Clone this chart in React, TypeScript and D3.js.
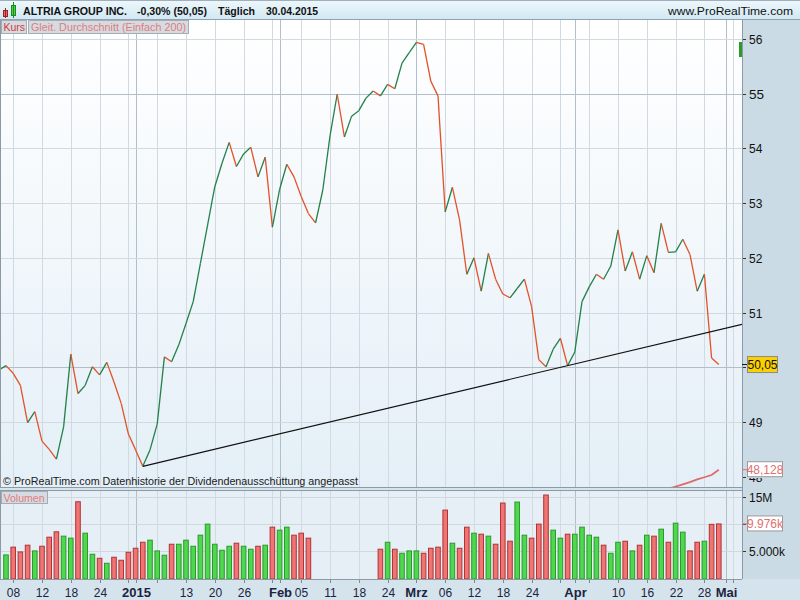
import * as d3 from 'd3';

// trading days shown on the chart
const decDays = [4, 5, 8, 9, 10, 11, 12, 15, 16, 17, 18, 19, 22, 23, 24, 26, 29, 30, 31];
const janDays = [2, 5, 6, 7, 8, 9, 12, 13, 14, 15, 16, 20, 21, 22, 23, 26, 27, 28, 29, 30];
const febDays = [2, 3, 4, 5, 6, 9, 10, 11, 12, 13, 17, 18, 19, 20, 23, 24, 25, 26, 27];
const marDays = [2, 3, 4, 5, 6, 9, 10, 11, 12, 13, 16, 17, 18, 19, 20, 23, 24, 25, 26, 27, 30, 31];
const aprDays = [1, 2, 6, 7, 8, 9, 10, 13, 14, 15, 16, 17, 20, 21, 22, 23, 24, 27, 28, 29, 30];
const mayDays = [1, 4];

const closes = [
  49.95, 50.03, 49.89, 49.67, 48.99, 49.19, 48.65, 48.5, 48.32, 48.91, 50.24, 49.52, 49.67, 50.01, 49.86, 50.09, 49.73, 49.34, 48.78,
  48.49, 48.19, 48.49, 48.96, 50.19, 50.1, 50.41, 50.8, 51.2, 51.9, 52.6, 53.3, 53.73, 54.11, 53.67, 53.9, 54.02, 53.48, 53.84, 52.56,
  53.25, 53.71, 53.48, 53.12, 52.81, 52.64, 53.24, 54.23, 54.99, 54.21, 54.59, 54.69, 54.92, 55.05, 54.96, 55.17, 55.09, 55.56, 55.75,
  55.94, 55.9, 55.23, 54.96, 52.84, 53.29, 52.69, 51.7, 52.0, 51.39, 52.08, 51.61, 51.34, 51.27, 51.44, 51.61, 51.11, 50.14, 50.01, 50.33, 50.53, 50.03,
  50.28, 51.2, 51.47, 51.7, 51.61, 51.85, 52.51, 51.76, 52.11, 51.61, 52.04, 51.73, 52.63, 52.1, 52.11, 52.34, 52.06, 51.39, 51.7, 50.17, 50.05,
];

// volume in millions (null = no data)
const volumes: (number | null)[] = [
  null, 4.26, 5.69, 4.81, 6.05, 5.0, 5.86, 7.53, 8.52, 7.72, 7.35, 14.07, 8.27, 4.38, 3.64, 2.72, 3.83, 3.27, 4.75,
  5.49, 6.6, 6.98, 5.0, 4.2, 6.23, 6.23, 6.98, 5.86, 7.9, 9.94, 6.23, 5.12, 5.86, 6.42, 5.86, 5.31, 5.86, 6.05, 9.38,
  8.83, 9.38, 7.9, 8.27, 7.35, null, null, null, null, null, null, null, null, null, 5.31, 6.6, 5.31, 4.57, 5.0,
  5.0, 4.57, 5.49, 5.69, 12.53, 6.42, 5.49, 9.38, 8.27, 8.08, 7.72, 6.23, 13.83, 6.79, 14.01, 7.9, 7.35, 9.94, 15.31, 8.83, 7.35, 8.08,
  8.08, 9.38, 7.9, 7.53, 6.05, 4.57, 6.6, 6.79, 5.0, 6.05, 7.9, 7.72, 9.01, 6.6, 10.12, 8.46, 5.0, 6.6, 6.79, 9.9, 9.976,
];
const volumeDir = [
  'u', 'u', 'd', 'd', 'd', 'u', 'd', 'd', 'd', 'u', 'u', 'd', 'u', 'u', 'd', 'u', 'd', 'd', 'd',
  'd', 'd', 'u', 'u', 'u', 'd', 'u', 'u', 'u', 'u', 'u', 'u', 'u', 'u', 'd', 'u', 'u', 'd', 'u', 'd',
  'u', 'u', 'd', 'd', 'd', 'u', 'u', 'u', 'u', 'u', 'u', 'u', 'u', 'u', 'd', 'u', 'd', 'u', 'u',
  'u', 'd', 'd', 'd', 'd', 'u', 'd', 'd', 'u', 'd', 'u', 'd', 'd', 'd', 'u', 'u', 'd', 'd', 'd', 'u', 'u', 'd',
  'u', 'u', 'u', 'u', 'd', 'u', 'u', 'd', 'u', 'd', 'u', 'd', 'u', 'd', 'u', 'u', 'd', 'd', 'u', 'd', 'd',
];

// 200-day simple moving average, last values (Apr 14 .. Apr 30)
const smaDates = ['2015-04-14', '2015-04-15', '2015-04-16', '2015-04-17', '2015-04-20', '2015-04-21', '2015-04-22', '2015-04-23', '2015-04-24', '2015-04-27', '2015-04-28', '2015-04-29', '2015-04-30'];
const smaValues = [47.62, 47.65, 47.68, 47.71, 47.75, 47.78, 47.82, 47.86, 47.9, 47.95, 47.99, 48.03, 48.128];

const priceTicks = [48, 49, 50, 51, 52, 53, 54, 55, 56];
const volumeTicks = [5, 10, 15];

const gridDates = [
  ['2014-12-08', '08'], ['2014-12-12', '12'], ['2014-12-18', '18'], ['2014-12-24', '24'], ['2014-12-31', ''],
  ['2015-01-02', '2015'], ['2015-01-07', ''], ['2015-01-13', '13'], ['2015-01-20', '20'], ['2015-01-26', '26'], ['2015-01-30', ''],
  ['2015-02-02', 'Feb'], ['2015-02-05', '05'], ['2015-02-11', '11'], ['2015-02-18', '18'], ['2015-02-24', '24'],
  ['2015-03-02', 'Mrz'], ['2015-03-06', '06'], ['2015-03-12', '12'], ['2015-03-18', '18'], ['2015-03-24', '24'], ['2015-03-30', ''],
  ['2015-04-01', 'Apr'], ['2015-04-06', ''], ['2015-04-10', '10'], ['2015-04-16', '16'], ['2015-04-22', '22'], ['2015-04-28', '28'],
  ['2015-05-01', 'Mai'], ['2015-05-04', ''],
];
const monthLabels = ['2015', 'Feb', 'Mrz', 'Apr', 'Mai'];

const pad = (n: number) => (n < 10 ? '0' + n : '' + n);
const axisDays = [
  ...decDays.map((d) => `2014-12-${pad(d)}`),
  ...janDays.map((d) => `2015-01-${pad(d)}`),
  ...febDays.map((d) => `2015-02-${pad(d)}`),
  ...marDays.map((d) => `2015-03-${pad(d)}`),
  ...aprDays.map((d) => `2015-04-${pad(d)}`),
  ...mayDays.map((d) => `2015-05-${pad(d)}`),
];

const FONT = '"Liberation Sans", Arial, sans-serif';
const W = 800;
const H = 600;
const plotRight = 742;
const priceTop = 20;
const priceBottom = 487;
const volTop = 491;
const volBottom = 579;

const UP = '#24804a';
const DOWN = '#e2522a';

export default function App() {
  const x = d3.scaleLinear().domain([0, 101]).range([-1.2, 726]);
  const idx = (d: string) => axisDays.indexOf(d);
  const y = d3.scaleLinear().domain([48, 56]).range([476.7, 39]);
  const vy = d3.scaleLinear().domain([0, 15]).range([578, 496.7]);
  const barW = 5.6;

  const segments = closes.slice(1).map((c, i) => ({
    x1: x(i), y1: y(closes[i]), x2: x(i + 1), y2: y(c), up: c >= closes[i],
  }));

  // support line through the January and March lows, extended to the right edge
  const a = idx('2015-01-05');
  const b = idx('2015-03-31');
  const slope = (closes[b] - closes[a]) / (b - a);
  const endIdx = x.invert(plotRight);
  const trend = { x1: x(a), y1: y(closes[a]), x2: plotRight, y2: y(closes[a] + slope * (endIdx - a)) };

  const smaLine = d3.line<number>()
    .x((_, i) => x(idx(smaDates[i])))
    .y((v) => y(v))(smaValues) || '';

  const last = closes[closes.length - 1];
  const lastSma = smaValues[smaValues.length - 1];
  const lastVol = volumes[volumes.length - 1] as number;

  return (
    <div style={{ position: 'fixed', left: 0, top: 0 }}>
      <svg width={W} height={H} style={{ display: 'block', fontFamily: FONT }}>
        <defs>
          <linearGradient id="hdr" x1="0" y1="0" x2="0" y2="1">
            <stop offset="0" stopColor="#eef8fc" />
            <stop offset="1" stopColor="#d2e8f3" />
          </linearGradient>
          <linearGradient id="pbg" x1="0" y1="0" x2="0" y2="1">
            <stop offset="0" stopColor="#ffffff" />
            <stop offset="1" stopColor="#e4eff7" />
          </linearGradient>
          <clipPath id="pclip"><rect x={1} y={priceTop} width={plotRight - 1} height={priceBottom - priceTop} /></clipPath>
          <clipPath id="vclip"><rect x={1} y={volTop} width={plotRight - 1} height={volBottom - volTop} /></clipPath>
          <clipPath id="lowclip"><rect x={plotRight} y={478} width={W - plotRight} height={10} /></clipPath>
        </defs>

        {/* backgrounds */}
        <rect x={0} y={0} width={W} height={H} fill="#d6e4ec" />
        <rect x={0} y={priceTop} width={plotRight} height={priceBottom - priceTop} fill="url(#pbg)" />
        <rect x={0} y={volTop} width={plotRight} height={volBottom - volTop} fill="#e6eff6" />
        <rect x={plotRight} y={priceTop} width={W - plotRight} height={volBottom - priceTop} fill="#cbdbe5" />
        <rect x={0} y={volBottom} width={W} height={H - volBottom} fill="#d5e3ec" />

        {/* header */}
        <rect x={0} y={0} width={W} height={19} fill="url(#hdr)" />
        <line x1={0} x2={W} y1={0.5} y2={0.5} stroke="#9fb0bc" />
        <line x1={0} x2={W} y1={19.5} y2={19.5} stroke="#8fa2b0" />
        <rect x={3.5} y={10.5} width={4} height={6} fill="#e46a6a" stroke="#a02020" />
        <line x1={5.5} x2={5.5} y1={8} y2={18} stroke="#a02020" />
        <rect x={11.5} y={5.5} width={4} height={10} fill="#4cd44c" stroke="#1a8a1a" />
        <line x1={13.5} x2={13.5} y1={2} y2={18} stroke="#1a8a1a" />
        <text x={23} y={14.5} fontSize={11.5} fontWeight="bold" fill="#111" textLength={104} lengthAdjust="spacingAndGlyphs">ALTRIA GROUP INC.</text>
        <text x={137} y={14.5} fontSize={11.5} fontWeight="bold" fill="#111" textLength={70} lengthAdjust="spacingAndGlyphs">-0,30% (50,05)</text>
        <text x={218} y={14.5} fontSize={11.5} fontWeight="bold" fill="#111" textLength={37} lengthAdjust="spacingAndGlyphs">Täglich</text>
        <text x={266} y={14.5} fontSize={11.5} fontWeight="bold" fill="#111" textLength={52} lengthAdjust="spacingAndGlyphs">30.04.2015</text>
        <text x={668} y={14.5} fontSize={11.5} fill="#111" textLength={125} lengthAdjust="spacingAndGlyphs">www.ProRealTime.com</text>

        {/* vertical grid */}
        {gridDates.map(([d, lab]) => {
          const gx = Math.round(x(idx(d))) + 0.5;
          const month = monthLabels.includes(lab);
          const col = month ? '#b2bec8' : '#d2dae1';
          return (
            <g key={'g' + d}>
              <line x1={gx} x2={gx} y1={priceTop} y2={priceBottom} stroke={col} />
              <line x1={gx} x2={gx} y1={volTop} y2={volBottom} stroke={col} />
              <line x1={gx} x2={gx} y1={volBottom} y2={volBottom + 4} stroke="#7a8a96" />
              {lab && (
                <text x={gx} y={597} textAnchor="middle" fontSize={month ? 13 : 12}
                  fontWeight={month ? 'bold' : 'normal'} fill="#1c2340">{lab}</text>
              )}
            </g>
          );
        })}

        {/* horizontal price grid + axis */}
        {priceTicks.map((t) => {
          const gy = Math.round(y(t)) + 0.5;
          const hidden = Math.abs(y(t) - y(closes[closes.length - 1])) < 10;
          return (
            <g key={'p' + t}>
              {t > 48 && <line x1={0} x2={plotRight} y1={gy} y2={gy} stroke={t % 5 === 0 ? '#b2bec8' : '#d2dae1'} />}
              <line x1={plotRight} x2={plotRight + 4} y1={gy} y2={gy} stroke="#333" />
              {!hidden && (
                <text x={749} y={gy + 4.5} fontSize={t % 5 === 0 ? 13.5 : 12} fill="#111"
                  clipPath={t === 48 ? 'url(#lowclip)' : undefined}>{t}</text>
              )}
            </g>
          );
        })}

        {/* volume grid + axis */}
        {volumeTicks.map((t) => {
          const gy = Math.round(vy(t)) + 0.5;
          return (
            <g key={'v' + t}>
              <line x1={0} x2={plotRight} y1={gy} y2={gy} stroke="#d0d8df" />
              <line x1={plotRight} x2={plotRight + 4} y1={gy} y2={gy} stroke="#333" />
              {t === 15 && <text x={749} y={gy + 4.5} fontSize={12} fill="#111">15M</text>}
              {t === 5 && <text x={749} y={gy + 4.5} fontSize={12} fill="#111">5.000k</text>}
            </g>
          );
        })}

        {/* volume bars */}
        <g clipPath="url(#vclip)">
          {volumes.map((v, i) => v == null ? null : (
            <rect key={'b' + i} x={x(i) - barW / 2 + 0.5} y={vy(v)} width={barW - 1} height={vy(0) - vy(v) + 1}
              fill={volumeDir[i] === 'u' ? '#4fd84f' : '#f07474'}
              stroke={volumeDir[i] === 'u' ? '#2a9a2a' : '#b03434'} strokeWidth={1} />
          ))}
        </g>

        {/* price line */}
        <g clipPath="url(#pclip)">
          <path d={smaLine} fill="none" stroke="#e06a6a" strokeWidth={1.8} />
          {segments.map((s, i) => (
            <line key={'s' + i} x1={s.x1} y1={s.y1} x2={s.x2} y2={s.y2} stroke={s.up ? UP : DOWN} strokeWidth={1.3} />
          ))}
          <line x1={trend.x1} y1={trend.y1} x2={trend.x2} y2={trend.y2} stroke="#111" strokeWidth={1.2} />
        </g>

        {/* panel borders */}
        <line x1={0.5} x2={0.5} y1={priceTop} y2={priceBottom} stroke="#8c9aa6" />
        <line x1={0.5} x2={0.5} y1={volTop} y2={volBottom} stroke="#8c9aa6" />
        <line x1={0} x2={plotRight} y1={priceBottom + 0.5} y2={priceBottom + 0.5} stroke="#8c9aa6" />
        <line x1={0} x2={plotRight} y1={volTop - 0.5} y2={volTop - 0.5} stroke="#8c9aa6" />
        <line x1={0} x2={plotRight} y1={volBottom + 0.5} y2={volBottom + 0.5} stroke="#8c9aa6" />
        <line x1={plotRight + 0.5} x2={plotRight + 0.5} y1={priceTop} y2={volBottom} stroke="#8c9aa6" />

        <rect x={739} y={42} width={3} height={15} fill="#2a9a2a" />

        {/* copyright note */}
        <text x={3} y={484.5} fontSize={11.5} fill="#1a1a1a" textLength={355} lengthAdjust="spacingAndGlyphs">© ProRealTime.com  Datenhistorie der Dividendenausschüttung angepasst</text>

        {/* legends */}
        <rect x={1.5} y={20.5} width={25} height={13} fill="#d6dbe1" stroke="#a3adb6" />
        <text x={3.5} y={31} fontSize={11} fill="#d23a3a" textLength={21.5} lengthAdjust="spacingAndGlyphs">Kurs</text>
        <rect x={28.5} y={20.5} width={160} height={13} fill="#d6dbe1" stroke="#a3adb6" />
        <text x={31} y={31} fontSize={11} fill="#e07c7c" textLength={155} lengthAdjust="spacingAndGlyphs">Gleit. Durchschnitt (Einfach 200)</text>
        <rect x={1.5} y={491.5} width={46} height={12} fill="#d6dbe1" stroke="#a3adb6" />
        <text x={3.5} y={501.5} fontSize={11} fill="#e07c7c" textLength={41} lengthAdjust="spacingAndGlyphs">Volumen</text>

        {/* value labels */}
        <line x1={plotRight} x2={plotRight + 5} y1={y(last)} y2={y(last)} stroke="#111" />
        <rect x={747.5} y={y(last) - 8} width={30} height={16} fill="#fcd100" stroke="#8a8a8a" />
        <text x={762.5} y={y(last) + 4.5} fontSize={12} fill="#111" textAnchor="middle">50,05</text>

        <line x1={plotRight} x2={plotRight + 5} y1={y(lastSma)} y2={y(lastSma)} stroke="#e06a6a" />
        <rect x={747.5} y={y(lastSma) - 8} width={35} height={15} fill="#ffffff" stroke="#9a9a9a" />
        <text x={765} y={y(lastSma) + 4} fontSize={12} fill="#e07070" textAnchor="middle">48,128</text>

        <line x1={plotRight} x2={plotRight + 5} y1={vy(lastVol)} y2={vy(lastVol)} stroke="#e06a6a" />
        <rect x={747.5} y={vy(lastVol) - 8} width={35} height={15} fill="#ffffff" stroke="#9a9a9a" />
        <text x={765} y={vy(lastVol) + 4} fontSize={12} fill="#e07070" textAnchor="middle">9.976k</text>
      </svg>
    </div>
  );
}
